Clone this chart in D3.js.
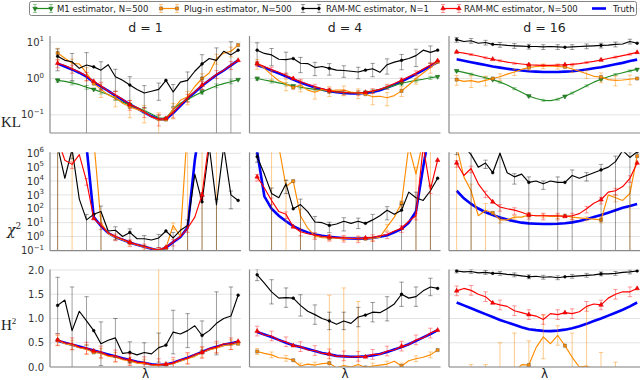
<!DOCTYPE html>
<html>
<head>
<meta charset="utf-8">
<script src="https://cdn.jsdelivr.net/npm/d3@7"></script>
<style>
  body { margin: 0; background: #fff; }
  svg { display: block; }
</style>
</head>
<body>
<div id="chart"></div>
<script>
// lambda grid shared by every panel
const lambdas = d3.range(26).map(i => 0.04 + i * 0.0378);
const titles = ["d = 1", "d = 4", "d = 16"];
const rowLabels = ["KL", "χ", "H"];

// ---- KL row, values are log10(KL) ----
const kl1_truth  = [0.41,0.33,0.25,0.16,0.05,-0.1,-0.22,-0.34,-0.47,-0.59,-0.71,-0.82,-0.93,-1.04,-1.13,-1.12,-0.95,-0.75,-0.55,-0.38,-0.2,-0.05,0.1,0.22,0.36,0.5];
const kl1_ram500 = [0.42,0.36,0.27,0.18,0.07,-0.08,-0.2,-0.35,-0.45,-0.57,-0.72,-0.8,-0.92,-1.05,-1.12,-1.1,-0.93,-0.73,-0.53,-0.36,-0.18,-0.04,0.12,0.23,0.37,0.5];
const kl1_plugin = [0.7,0.56,0.42,0.4,0.15,-0.14,-0.3,-0.45,-0.52,-0.68,-0.78,-0.85,-0.92,-1.05,-1.15,-1.13,-0.85,-0.6,-0.5,-0.22,0.0,0.15,0.55,0.7,0.75,0.92];
const kl1_ram1   = [0.61,0.5,0.46,0.28,0.37,0.32,0.23,0.38,0.05,-0.05,-0.18,-0.3,-0.4,-0.35,-0.3,-0.05,-0.37,-0.1,-0.05,0.2,0.4,0.55,0.5,0.75,0.65,0.78];
const kl1_m1     = [-0.05,-0.08,-0.12,-0.17,-0.24,-0.3,-0.37,-0.44,-0.55,-0.65,-0.73,-0.8,-0.88,-0.98,-1.08,-1.1,-0.85,-0.68,-0.58,-0.47,-0.37,-0.28,-0.2,-0.14,-0.09,-0.03];

const kl4_truth  = [0.37,0.3,0.22,0.14,0.06,-0.03,-0.11,-0.18,-0.25,-0.3,-0.35,-0.38,-0.4,-0.41,-0.41,-0.4,-0.37,-0.32,-0.25,-0.17,-0.08,0.02,0.12,0.23,0.34,0.45];
const kl4_ram500 = [0.41,0.33,0.25,0.17,0.09,0.0,-0.08,-0.16,-0.22,-0.28,-0.33,-0.37,-0.38,-0.4,-0.4,-0.38,-0.34,-0.3,-0.22,-0.14,-0.05,0.05,0.15,0.26,0.37,0.49];
const kl4_plugin = [0.41,0.28,0.1,-0.06,-0.15,-0.25,-0.18,-0.32,-0.38,-0.3,-0.34,-0.32,-0.32,-0.37,-0.4,-0.43,-0.5,-0.49,-0.53,-0.47,-0.34,-0.18,0.0,0.15,0.3,0.46];
const kl4_ram1   = [0.78,0.69,0.65,0.53,0.52,0.55,0.42,0.41,0.3,0.33,0.28,0.23,0.22,0.2,0.18,0.23,0.27,0.17,0.38,0.45,0.5,0.55,0.63,0.78,0.72,0.78];
const kl4_m1     = [0.0,-0.04,-0.08,-0.12,-0.16,-0.2,-0.24,-0.27,-0.3,-0.33,-0.35,-0.37,-0.38,-0.39,-0.39,-0.38,-0.35,-0.3,-0.25,-0.19,-0.13,-0.09,-0.05,-0.02,0.02,0.05];

const kl16_truth  = [0.53,0.49,0.45,0.41,0.37,0.33,0.3,0.27,0.24,0.22,0.2,0.19,0.18,0.18,0.18,0.19,0.2,0.22,0.25,0.28,0.31,0.35,0.39,0.43,0.48,0.52];
const kl16_ram500 = [0.73,0.7,0.66,0.62,0.57,0.53,0.49,0.45,0.42,0.4,0.38,0.37,0.36,0.36,0.37,0.38,0.39,0.41,0.44,0.47,0.51,0.55,0.59,0.63,0.67,0.72];
const kl16_plugin = [-0.03,-0.08,-0.06,-0.1,-0.05,0.0,0.05,0.12,0.18,0.25,0.3,0.33,0.34,0.34,0.33,0.32,0.26,0.2,0.13,0.06,0.04,-0.03,-0.05,-0.04,-0.02,0.0];
const kl16_ram1   = [1.07,1.02,1.04,0.97,0.99,0.94,0.93,0.91,0.9,0.89,0.88,0.88,0.87,0.88,0.87,0.86,0.87,0.88,0.89,0.9,0.91,0.92,0.94,0.95,1.02,0.97];
const kl16_m1     = [0.21,0.17,0.12,0.07,0.02,-0.03,-0.1,-0.18,-0.28,-0.38,-0.48,-0.55,-0.6,-0.61,-0.57,-0.49,-0.4,-0.3,-0.2,-0.1,-0.02,0.05,0.11,0.16,0.21,0.25];

// ---- chi^2 row, values are log10(chi^2) ----
const c1_truth  = [9,9,9,8,6.5,1.4,0.76,0.25,-0.04,-0.23,-0.43,-0.6,-0.74,-0.88,-1.0,-0.8,-0.4,-0.04,0.64,5.5,9,9,9,9,9,9];
const c1_ram500 = [7,5.5,5.2,5.9,4.0,1.3,0.8,0.28,0.0,-0.2,-0.42,-0.58,-0.72,-0.86,-0.97,-0.78,-0.38,0.0,0.6,1.4,3.0,7,7,7,7,7];
const c1_plugin = [7,7,7,7,7,7,1.0,0.2,-0.05,-0.25,-0.45,-0.6,-0.75,-0.88,-0.98,-0.82,0.8,0.0,8,8,8,8,8,8,8,8];
const c1_ram1   = [6.5,4.2,6.3,2.7,1.2,1.6,1.8,0.4,0.45,0.0,0.3,-0.16,-0.16,-0.25,-0.1,0.4,-0.1,0.45,0.8,4.5,2.5,6.5,2.3,6.5,3.0,2.6];

const c4_truth  = [6.1,2.9,2.0,1.5,1.1,0.75,0.5,0.3,0.15,0.05,-0.02,-0.07,-0.12,-0.14,-0.15,-0.14,-0.1,-0.02,0.1,0.3,0.55,1.0,1.8,5.0,8,8];
const c4_ram500 = [4.3,3.5,2.6,1.8,1.6,0.7,0.35,0.2,0.1,0.02,-0.03,-0.08,-0.1,-0.12,-0.14,-0.1,-0.05,0.05,0.15,0.4,0.6,1.1,1.5,6.5,3.4,5.5];
const c4_plugin = [7,7,7,6.5,3.6,4.0,1.5,0.6,0.05,-0.08,-0.1,-0.12,-0.13,-0.14,-0.15,-0.16,-0.14,-0.05,0.7,1.4,2.4,6.5,4.5,7,7,7];
const c4_ram1   = [5.75,4.5,3.1,2.8,3.8,2.0,2.3,1.8,1.05,1.0,0.8,0.9,1.1,0.95,1.1,0.95,1.2,1.5,1.9,1.6,1.9,3.2,2.8,2.6,3.3,4.2];

const c16_truth  = [3.3,2.75,2.35,2.02,1.75,1.55,1.38,1.22,1.1,1.0,0.95,0.92,0.9,0.9,0.92,0.96,1.02,1.12,1.25,1.4,1.55,1.72,1.9,2.07,2.2,2.35];
const c16_ram500 = [5.3,4.4,4.9,3.8,3.1,2.5,2.13,2.0,1.9,1.75,1.55,1.5,1.5,1.5,1.5,1.45,1.5,1.65,2.0,2.4,2.65,3.2,3.3,3.6,4.2,5.3];
const c16_plugin = [6.5,4.3,3.3,1.5,1.9,1.7,1.2,1.2,1.4,1.4,1.55,1.5,1.5,1.45,1.45,1.5,1.4,1.35,1.3,1.25,1.2,3.0,2.8,2.6,3.1,5.8];
const c16_ram1   = [6.2,6.5,5.9,5.0,5.3,4.6,6.0,4.6,4.3,4.5,3.9,4.0,3.8,4.0,3.9,3.9,4.4,4.2,4.4,4.6,4.8,5.0,5.4,6.2,5.7,6.1];

// ---- H^2 row, plain values ----
const h1_truth  = [0.54,0.5,0.46,0.42,0.38,0.34,0.3,0.26,0.22,0.18,0.145,0.11,0.08,0.055,0.04,0.05,0.09,0.14,0.19,0.25,0.31,0.37,0.42,0.46,0.49,0.52];
const h1_ram500 = [0.56,0.5,0.48,0.41,0.39,0.33,0.31,0.24,0.23,0.17,0.15,0.1,0.09,0.05,0.05,0.06,0.08,0.15,0.18,0.26,0.3,0.38,0.41,0.48,0.48,0.53];
const h1_plugin = [0.55,0.48,0.45,0.4,0.36,0.3,0.28,0.22,0.2,0.15,0.12,0.08,0.07,0.04,0.03,0.05,0.07,0.12,0.17,0.22,0.3,0.35,0.39,0.44,0.46,0.48];
const h1_ram1   = [1.27,1.38,0.75,1.15,0.95,0.75,0.48,0.55,0.6,0.28,0.3,0.25,0.3,0.27,0.4,0.45,0.72,0.68,0.75,0.85,0.65,0.75,0.9,1.0,1.05,1.48];

const h4_truth  = [0.72,0.67,0.62,0.56,0.5,0.45,0.41,0.37,0.33,0.29,0.26,0.23,0.22,0.21,0.21,0.22,0.24,0.27,0.31,0.36,0.41,0.47,0.54,0.61,0.68,0.76];
const h4_ram500 = [0.74,0.66,0.64,0.55,0.52,0.44,0.42,0.35,0.34,0.28,0.27,0.22,0.23,0.2,0.22,0.21,0.26,0.26,0.33,0.35,0.43,0.46,0.56,0.6,0.7,0.76];
const h4_plugin = [0.32,0.28,0.25,0.19,0.18,0.14,0.02,0.06,0.04,0.07,0.08,-0.02,0.03,0.0,0.05,-0.01,0.02,0.04,0.06,0.12,0.02,0.13,0.17,0.2,0.25,0.35];
const h4_ram1   = [1.9,1.73,1.55,1.42,1.43,1.42,1.27,1.15,1.08,1.0,0.95,0.88,0.95,0.9,1.03,1.07,1.13,1.12,1.2,1.3,1.5,1.42,1.45,1.57,1.65,1.62];

const h16_truth  = [1.33,1.27,1.21,1.15,1.09,1.03,0.97,0.92,0.87,0.82,0.78,0.76,0.745,0.74,0.75,0.77,0.8,0.84,0.89,0.95,1.0,1.06,1.12,1.18,1.25,1.33];
const h16_ram500 = [1.57,1.62,1.58,1.5,1.45,1.32,1.28,1.25,1.16,1.12,1.08,1.05,0.98,1.1,1.08,1.12,1.1,1.14,1.25,1.3,1.28,1.42,1.5,1.55,1.55,1.62];
const h16_plugin = [-0.1,-0.1,-0.1,-0.1,-0.1,-0.1,-0.1,-0.1,-0.1,0.05,0.04,0.4,0.62,0.48,0.65,0.44,0.2,0.0,0.02,-0.05,-0.1,-0.1,-0.1,-0.1,-0.1,-0.1];
const h16_ram1   = [1.98,1.96,1.97,1.94,1.95,1.93,1.93,1.91,1.9,1.88,1.86,1.87,1.85,1.86,1.84,1.86,1.87,1.88,1.89,1.9,1.92,1.92,1.93,1.95,1.96,1.98];

// error bars on every 2nd point; log rows: relative to value, H^2 row: absolute
const e_kl1_m1     = [0.12,0.12,0.12,0.12,0.12,0.12,0.15,0.15,0.12,0.12,0.12,0.12,0.12];
const e_kl1_plugin = [0.35,0.3,0.4,0.4,0.45,0.5,0.5,0.6,0.45,0.4,0.35,0.3,0.3];
const e_kl1_ram1   = [0.6,0.7,1.2,0.7,0.6,0.7,0.6,0.5,0.6,0.7,0.8,1.2,1.3];
const e_kl1_ram500 = [0.25,0.25,0.25,0.25,0.25,0.3,0.3,0.35,0.3,0.25,0.25,0.25,0.25];
const e_kl4_m1     = [0.1,0.1,0.1,0.1,0.1,0.1,0.1,0.1,0.1,0.1,0.1,0.1,0.1];
const e_kl4_plugin = [0.3,0.3,0.35,0.35,0.35,0.3,0.3,0.3,0.4,0.4,0.3,0.3,0.3];
const e_kl4_ram1   = [0.6,0.5,0.6,0.45,0.4,0.35,0.35,0.35,0.4,0.45,0.45,0.5,0.5];
const e_kl4_ram500 = [0.15,0.15,0.15,0.15,0.15,0.15,0.15,0.15,0.15,0.15,0.15,0.15,0.15];
const e_kl16_m1     = [0.06,0.06,0.06,0.06,0.06,0.06,0.06,0.06,0.06,0.06,0.06,0.06,0.06];
const e_kl16_plugin = [0.3,0.35,0.3,0.2,0.2,0.15,0.15,0.15,0.2,0.25,0.3,0.3,0.3];
const e_kl16_ram1   = [0.15,0.15,0.15,0.15,0.15,0.15,0.15,0.15,0.15,0.15,0.15,0.15,0.15];
const e_kl16_ram500 = [0.06,0.06,0.06,0.06,0.06,0.06,0.06,0.06,0.06,0.06,0.06,0.06,0.06];

const e_c1_plugin = [2,2,0,2,0.3,0.3,0.3,0.4,0.5,2,2,2,0];
const e_c1_ram1   = [2,0.8,1.5,1.5,0.8,0.8,0.7,0.8,1.5,1.5,1.5,1.5,0.9];
const e_c1_ram500 = [0.5,0.5,0.5,0.5,0.5,0.5,0.5,0.5,0.5,0.5,0.5,0.5,0.5];
const e_c4_plugin = [0,2,2,2,0.3,0.3,0.3,0.3,0.3,0.5,0.5,2,2];
const e_c4_ram1   = [0.6,1.5,0.8,1.5,1.5,0.7,0.8,0.7,1.5,0.8,1.5,1.5,1.5];
const e_c4_ram500 = [0.5,0.5,0.5,0.5,0.5,0.5,0.5,0.5,0.5,0.5,0.5,0.5,0.5];
const e_c16_plugin = [2,2,2,0.4,0.3,0.3,0.3,0.3,0.3,0.3,0.4,0.5,2];
const e_c16_ram1   = [0.5,1.5,0.6,1.5,0.7,1.5,0.6,1.5,1.5,0.6,1.5,1.5,1.5];
const e_c16_ram500 = [0.5,0.5,0.5,0.5,0.5,0.5,0.5,0.5,0.5,0.5,0.5,0.5,0.5];

const e_h1_plugin = [0.1,0.1,0.1,0.1,0.1,0.08,0.08,2.0,0.08,0.1,0.1,0.1,0.1];
const e_h1_ram1   = [0.58,0.9,0.5,0.45,0.4,0.22,0.2,0.3,0.45,0.35,0.3,0.65,0.6];
const e_h1_ram500 = [0.12,0.12,0.12,0.12,0.12,0.12,0.12,0.12,0.12,0.12,0.12,0.12,0.12];
const e_h4_plugin = [0.06,0.06,0.06,0.06,0.06,1.4,1.6,1.3,0.06,0.06,0.06,0.06,0.06];
const e_h4_ram1   = [0.12,0.25,0.2,0.22,0.2,0.18,0.18,0.2,0.2,0.25,0.25,0.2,0.18];
const e_h4_ram500 = [0.1,0.1,0.1,0.1,0.1,0.1,0.1,0.1,0.1,0.1,0.1,0.1,0.1];
const e_h16_plugin = [0,0.15,0.15,0.6,0.8,0.5,0.45,0.2,0.5,1.2,0.4,0.2,0];
const e_h16_ram1   = [0.04,0.04,0.04,0.04,0.04,0.04,0.04,0.04,0.04,0.04,0.04,0.04,0.04];
const e_h16_ram500 = [0.1,0.1,0.1,0.1,0.1,0.1,0.1,0.1,0.1,0.1,0.1,0.1,0.1];

const panels = [
  {row: 0, col: 0, truth: kl1_truth, m1: kl1_m1, plugin: kl1_plugin, ram1: kl1_ram1, ram500: kl1_ram500,
   err: {m1: e_kl1_m1, plugin: e_kl1_plugin, ram1: e_kl1_ram1, ram500: e_kl1_ram500}},
  {row: 0, col: 1, truth: kl4_truth, m1: kl4_m1, plugin: kl4_plugin, ram1: kl4_ram1, ram500: kl4_ram500,
   err: {m1: e_kl4_m1, plugin: e_kl4_plugin, ram1: e_kl4_ram1, ram500: e_kl4_ram500}},
  {row: 0, col: 2, truth: kl16_truth, m1: kl16_m1, plugin: kl16_plugin, ram1: kl16_ram1, ram500: kl16_ram500,
   err: {m1: e_kl16_m1, plugin: e_kl16_plugin, ram1: e_kl16_ram1, ram500: e_kl16_ram500}},
  {row: 1, col: 0, truth: c1_truth, plugin: c1_plugin, ram1: c1_ram1, ram500: c1_ram500,
   err: {plugin: e_c1_plugin, ram1: e_c1_ram1, ram500: e_c1_ram500}},
  {row: 1, col: 1, truth: c4_truth, plugin: c4_plugin, ram1: c4_ram1, ram500: c4_ram500,
   err: {plugin: e_c4_plugin, ram1: e_c4_ram1, ram500: e_c4_ram500}},
  {row: 1, col: 2, truth: c16_truth, plugin: c16_plugin, ram1: c16_ram1, ram500: c16_ram500,
   err: {plugin: e_c16_plugin, ram1: e_c16_ram1, ram500: e_c16_ram500}},
  {row: 2, col: 0, truth: h1_truth, plugin: h1_plugin, ram1: h1_ram1, ram500: h1_ram500,
   err: {plugin: e_h1_plugin, ram1: e_h1_ram1, ram500: e_h1_ram500}},
  {row: 2, col: 1, truth: h4_truth, plugin: h4_plugin, ram1: h4_ram1, ram500: h4_ram500,
   err: {plugin: e_h4_plugin, ram1: e_h4_ram1, ram500: e_h4_ram500}},
  {row: 2, col: 2, truth: h16_truth, plugin: h16_plugin, ram1: h16_ram1, ram500: h16_ram500,
   err: {plugin: e_h16_plugin, ram1: e_h16_ram1, ram500: e_h16_ram500}}
];

const width = 640, height = 380;
const colLeft = [50, 249.5, 449], colWidth = 191;
const rowTop = [36, 152.3, 269.5], rowBottom = [133, 250.7, 367];
const markEvery = 5, errEvery = 2;

const styles = {
  m1:     {color: "#228b22", label: "M1 estimator, N=500", symbol: d3.symbolTriangle, rot: 180, size: 9, edge: "#1a5e1a", errOp: 0.45},
  plugin: {color: "#ff8c00", label: "Plug-in estimator, N=500", symbol: d3.symbolSquare, rot: 0, size: 10, edge: "#6b5a40", errOp: 0.45},
  ram1:   {color: "#000000", label: "RAM-MC estimator, N=1", symbol: d3.symbolCircle, rot: 0, size: 6, edge: "#000", errOp: 0.38},
  ram500: {color: "#ff0000", label: "RAM-MC estimator, N=500", symbol: d3.symbolTriangle, rot: 0, size: 9, edge: "#c00", errOp: 0.38}
};
const order = ["m1", "plugin", "ram1", "ram500"];

const yScales = [
  d3.scaleLog().domain([Math.pow(10, -1.5), Math.pow(10, 1.17)]).range([rowBottom[0], rowTop[0]]),
  d3.scaleLog().domain([Math.pow(10, -1.02), Math.pow(10, 6.07)]).range([rowBottom[1], rowTop[1]]),
  d3.scaleLinear().domain([0, 2.0]).range([rowBottom[2], 270])
];
const yTicks = [[0.1, 1, 10], [0.1, 1, 10, 100, 1e3, 1e4, 1e5, 1e6], [0, 0.5, 1, 1.5, 2]];
const isLog = [true, true, false];

const svg = d3.select("#chart").append("svg")
  .attr("width", width).attr("height", height)
  .style("font-family", "DejaVu Sans, sans-serif");

panels.forEach((p, pi) => {
  const x = d3.scaleLinear().domain([0, 1]).range([colLeft[p.col], colLeft[p.col] + colWidth]);
  const y = yScales[p.row];
  const top = rowTop[p.row], bottom = rowBottom[p.row];
  const val = v => isLog[p.row] ? Math.pow(10, v) : v;
  const g = svg.append("g");

  g.append("clipPath").attr("id", "clip" + pi)
    .append("rect")
    .attr("x", x.range()[0]).attr("y", top)
    .attr("width", colWidth).attr("height", bottom - top);

  g.selectAll(".grid").data(yTicks[p.row]).enter().append("line")
    .attr("x1", x.range()[0]).attr("x2", x.range()[1])
    .attr("y1", d => y(d)).attr("y2", d => y(d))
    .attr("stroke", "#e3e3e3").attr("stroke-width", 1);

  const plot = g.append("g").attr("clip-path", "url(#clip" + pi + ")");
  const line = d3.line().x((d, i) => x(lambdas[i])).y(d => y(val(d)));

  plot.append("path").datum(p.truth)
    .attr("d", line).attr("fill", "none")
    .attr("stroke", "#0000ff").attr("stroke-width", 2.6);

  order.forEach(key => {
    if (!p[key]) return;
    const st = styles[key];
    const vals = p[key];
    const errs = p.err[key];

    // error bars
    errs.forEach((e, k) => {
      const i = k * errEvery;
      if (!e) return;
      const v = val(vals[i]);
      let lo, hi;
      if (isLog[p.row]) { lo = v * (1 - e); hi = v * (1 + e); }
      else { lo = v - e; hi = v + e; }
      const cx = x(lambdas[i]);
      const yHi = Math.max(y(hi), top - 20);
      const yLo = (isLog[p.row] && lo <= 0) ? bottom + 20 : Math.min(y(lo), bottom + 20);
      const eb = plot.append("g")
        .attr("stroke", st.color).attr("stroke-opacity", st.errOp).attr("stroke-width", 1);
      eb.append("line").attr("x1", cx).attr("x2", cx).attr("y1", yHi).attr("y2", yLo);
      eb.append("line").attr("x1", cx - 2.2).attr("x2", cx + 2.2).attr("y1", yHi).attr("y2", yHi);
      eb.append("line").attr("x1", cx - 2.2).attr("x2", cx + 2.2).attr("y1", yLo).attr("y2", yLo);
    });

    plot.append("path").datum(vals)
      .attr("d", line).attr("fill", "none")
      .attr("stroke", st.color).attr("stroke-width", 1.15)
      .attr("stroke-linejoin", "round");

    plot.selectAll(".m" + key).data(vals.filter((d, i) => i % markEvery === 0)).enter()
      .append("path")
      .attr("d", d3.symbol().type(st.symbol).size(st.size))
      .attr("transform", (d, j) => `translate(${x(lambdas[j * markEvery])},${y(val(d))}) rotate(${st.rot})`)
      .attr("fill", st.color).attr("stroke", st.edge).attr("stroke-width", 0.5);
  });

  // spines: left and bottom
  g.append("line").attr("x1", x.range()[0]).attr("x2", x.range()[0])
    .attr("y1", top).attr("y2", bottom).attr("stroke", "#8a8a8a").attr("stroke-width", 1.2);
  g.append("line").attr("x1", x.range()[0]).attr("x2", x.range()[1])
    .attr("y1", bottom).attr("y2", bottom).attr("stroke", "#8a8a8a").attr("stroke-width", 1.2);

  // tick labels only on first column
  if (p.col === 0) {
    yTicks[p.row].forEach(t => {
      const txt = g.append("text")
        .attr("x", 44).attr("y", y(t) + 3.6)
        .attr("text-anchor", "end")
        .attr("font-size", 10).attr("fill", "#333");
      if (isLog[p.row]) {
        txt.append("tspan").text("10");
        txt.append("tspan").attr("dy", -4.5).attr("font-size", 7).text(String(Math.round(Math.log10(t))).replace("-", "−"));
      } else {
        txt.text(d3.format(".1f")(t));
      }
    });
  }

  if (p.row === 0) {
    svg.append("text").attr("x", x(0.5)).attr("y", 32)
      .attr("text-anchor", "middle").attr("font-size", 12.5).attr("fill", "#222")
      .text(titles[p.col]);
  }
  if (p.row === 2) {
    svg.append("text").attr("x", x(0.5)).attr("y", 378)
      .attr("text-anchor", "middle").attr("font-size", 12).attr("fill", "#222")
      .text("λ");
  }
});

// row labels
svg.append("text").attr("x", 1).attr("y", 127)
  .attr("font-family", "Liberation Serif, serif").attr("font-size", 15).attr("fill", "#222")
  .text(rowLabels[0]);
const chi = svg.append("text").attr("x", 7).attr("y", 235)
  .attr("font-family", "DejaVu Serif, serif").attr("font-size", 14).attr("fill", "#222");
chi.append("tspan").attr("font-style", "italic").text(rowLabels[1]);
chi.append("tspan").attr("dy", -6).attr("font-size", 9).text("2");
const hel = svg.append("text").attr("x", 1).attr("y", 330)
  .attr("font-family", "Liberation Serif, serif").attr("font-size", 15).attr("fill", "#222");
hel.append("tspan").text(rowLabels[2]);
hel.append("tspan").attr("dy", -6).attr("font-size", 9).text("2");

// legend
const legend = svg.append("g");
legend.append("rect").attr("x", 29.5).attr("y", 1.5).attr("width", 607).attr("height", 14)
  .attr("rx", 2).attr("fill", "#fff").attr("stroke", "#666").attr("stroke-width", 0.8);
const legendIcon = [35, 161, 303, 443];
const legendText = [57, 184, 326, 464];
order.forEach((key, k) => {
  const st = styles[key];
  const x0 = legendIcon[k], x1 = x0 + 16, ly = 8.5;
  const item = legend.append("g");
  [x0, x1].forEach(cx => {
    item.append("line").attr("x1", cx).attr("x2", cx).attr("y1", ly - 4).attr("y2", ly + 4)
      .attr("stroke", st.color).attr("stroke-opacity", st.errOp);
    item.append("line").attr("x1", cx - 2).attr("x2", cx + 2).attr("y1", ly - 4).attr("y2", ly - 4)
      .attr("stroke", st.color).attr("stroke-opacity", st.errOp);
    item.append("line").attr("x1", cx - 2).attr("x2", cx + 2).attr("y1", ly + 4).attr("y2", ly + 4)
      .attr("stroke", st.color).attr("stroke-opacity", st.errOp);
  });
  item.append("line").attr("x1", x0).attr("x2", x1).attr("y1", ly).attr("y2", ly)
    .attr("stroke", st.color).attr("stroke-width", 1.2);
  [x0, x1].forEach(cx => {
    item.append("path").attr("d", d3.symbol().type(st.symbol).size(st.size))
      .attr("transform", `translate(${cx},${ly}) rotate(${st.rot})`)
      .attr("fill", st.color).attr("stroke", st.edge).attr("stroke-width", 0.5);
  });
  legend.append("text").attr("x", legendText[k]).attr("y", 11.5)
    .attr("font-size", 8.5).attr("fill", "#222").text(st.label);
});
legend.append("line").attr("x1", 592).attr("x2", 606).attr("y1", 8.5).attr("y2", 8.5)
  .attr("stroke", "#0000ff").attr("stroke-width", 2.6);
legend.append("text").attr("x", 613).attr("y", 11.5)
  .attr("font-size", 8.5).attr("fill", "#222").text("Truth");
</script>
</body>
</html>
